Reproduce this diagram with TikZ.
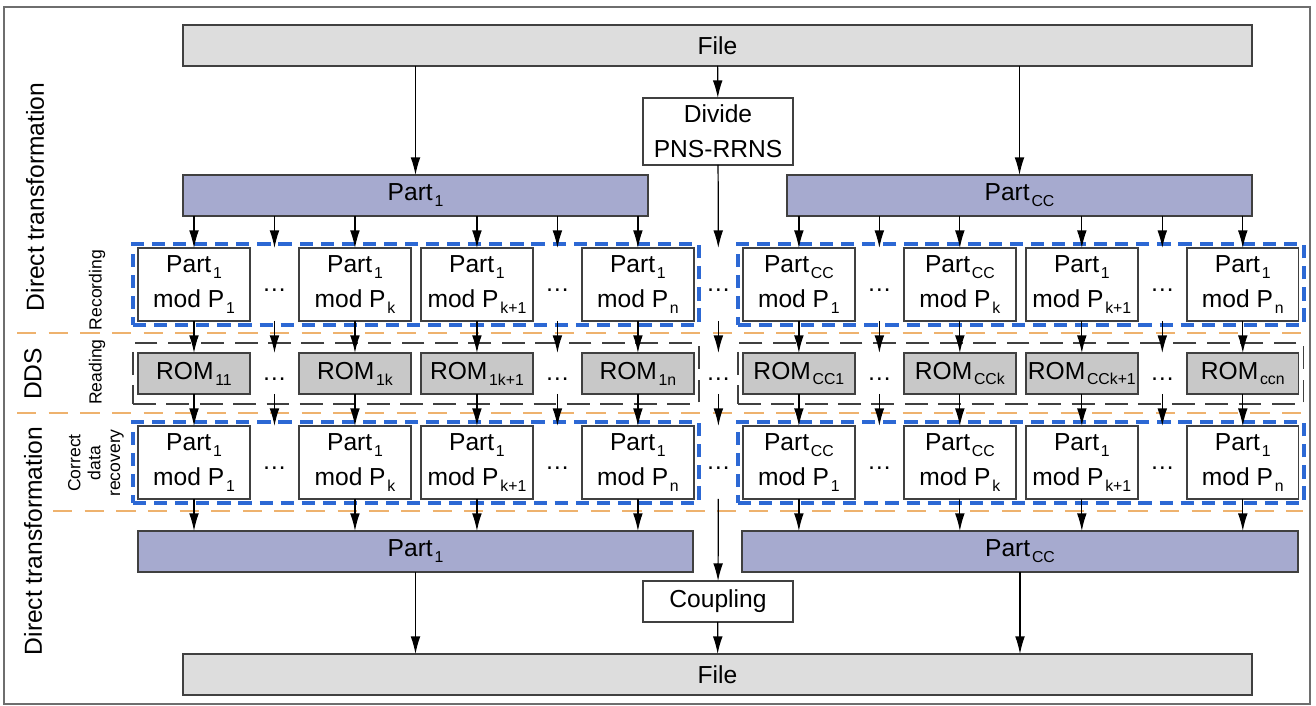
\documentclass[tikz,border=0pt]{standalone}
\usepackage{fontspec}
\setmainfont{Liberation Sans}
\usepackage{tikz}
\usetikzlibrary{arrows.meta,positioning,calc,fit}

\definecolor{filegray}{RGB}{221,221,221}
\definecolor{partblue}{RGB}{166,170,207}
\definecolor{romgray}{RGB}{200,200,200}
\definecolor{edgegray}{RGB}{64,64,64}
\definecolor{groupblue}{RGB}{44,104,212}
\definecolor{seporange}{RGB}{238,178,110}
\definecolor{framegray}{RGB}{110,110,110}

\newcommand{\idx}[1]{\kern1pt\raisebox{-3.4pt}{\fontsize{9}{11}\selectfont #1}}

\begin{document}
\begin{tikzpicture}[x=0.02cm, y=-0.02cm, node distance=0.98cm,
  font=\fontsize{14}{19.8}\selectfont,
  arrow/.style={-{Latex[length=10pt,width=5.5pt]}, line width=0.7pt},
  bar/.style={draw=edgegray, line width=0.8pt, minimum height=0.82cm, inner sep=1pt, outer sep=0pt},
  modbox/.style={draw=edgegray, line width=0.8pt, fill=white, minimum width=2.24cm, minimum height=1.46cm, align=center, inner sep=1pt, outer sep=0pt},
  rombox/.style={draw=edgegray, line width=0.8pt, fill=romgray, minimum width=2.24cm, minimum height=0.82cm, inner sep=1pt, outer sep=0pt},
  dotnode/.style={minimum width=0.9cm, inner sep=0pt, outer sep=0pt},
  bluegroup/.style={draw=groupblue, line width=2.5pt, dash pattern=on 7.5pt off 4.5pt, inner xsep=0.1cm, inner ysep=0.08cm},
  readgroup/.style={draw=edgegray, line width=0.8pt, dash pattern=on 13pt off 6pt, inner xsep=0.1cm, inner ysep=0.2cm},
  orangeline/.style={draw=seporange, line width=1pt, dash pattern=on 11pt off 7pt},
  sidelabel/.style={rotate=90, inner sep=0pt},
  smalllabel/.style={rotate=90, inner sep=0pt, align=center, font=\fontsize{10}{11.3}\selectfont}]
\useasboundingbox (0,0) rectangle (1316,706);
\draw[framegray, line width=0.8pt] (4,7) rectangle (1310,704);

% left labels
\node[sidelabel] (T1) at (35,197) {Direct transformation};
\node[sidelabel] (T2) at (33,374) {DDS};
\node[sidelabel] (T3) at (33,541) {Direct transformation};
\node[smalllabel] (L1) at (97,290) {Recording};
\node[smalllabel] (L2) at (97,372) {Reading};
\node[smalllabel] (L3) at (96,463) {Correct\\data\\recovery};

% top part
\node[bar, fill=filegray, minimum width=21.38cm] (F1) at (717.5,45.5) {File};
\node[draw=edgegray, line width=0.8pt, fill=white, minimum width=3cm, minimum height=1.34cm, align=center, inner sep=1pt, outer sep=0pt] (D) at (718,131.5) {Divide\\PNS-RRNS};
\node[bar, fill=partblue, minimum width=9.3cm] (P1) at (415.5,195.5) {Part\idx{1}};
\node[bar, fill=partblue, minimum width=9.3cm] (PC) at (1019.5,195.5) {Part\idx{CC}};

% recording row
\node[modbox] (R1) at (194,284.5) {Part\idx{1}\\mod P\idx{1}};
\node[modbox, right=of R1] (R2) {Part\idx{1}\\mod P\idx{k}};
\node[modbox, right=0.2cm of R2] (R3) {Part\idx{1}\\mod P\idx{k+1}};
\node[modbox, right=of R3] (R4) {Part\idx{1}\\mod P\idx{n}};
\node[modbox, right=of R4] (R5) {Part\idx{CC}\\mod P\idx{1}};
\node[modbox, right=of R5] (R6) {Part\idx{CC}\\mod P\idx{k}};
\node[modbox, right=0.2cm of R6] (R7) {Part\idx{1}\\mod P\idx{k+1}};
\node[modbox, right=of R7] (R8) {Part\idx{1}\\mod P\idx{n}};
\node[dotnode, minimum height=1.46cm] (Ra) at ($(R1.east)!0.5!(R2.west)$) {\strut\dots};
\node[dotnode, minimum height=1.46cm] (Rb) at ($(R3.east)!0.5!(R4.west)$) {\strut\dots};
\node[dotnode, minimum height=1.46cm] (Rc) at ($(R4.east)!0.5!(R5.west)$) {\strut\dots};
\node[dotnode, minimum height=1.46cm] (Rd) at ($(R5.east)!0.5!(R6.west)$) {\strut\dots};
\node[dotnode, minimum height=1.46cm] (Re) at ($(R7.east)!0.5!(R8.west)$) {\strut\dots};

% reading row
\node[rombox, below=0.64cm of R1] (M1) {ROM\idx{11}};
\node[rombox, below=0.64cm of R2] (M2) {ROM\idx{1k}};
\node[rombox, below=0.64cm of R3] (M3) {ROM\idx{1k+1}};
\node[rombox, below=0.64cm of R4] (M4) {ROM\idx{1n}};
\node[rombox, below=0.64cm of R5] (M5) {ROM\idx{CC1}};
\node[rombox, below=0.64cm of R6] (M6) {ROM\idx{CCk}};
\node[rombox, below=0.64cm of R7] (M7) {ROM\idx{CCk+1}};
\node[rombox, below=0.64cm of R8] (M8) {ROM\idx{ccn}};
\node[dotnode, minimum height=0.82cm, below=0.64cm of Ra] (Ma) {\strut\dots};
\node[dotnode, minimum height=0.82cm, below=0.64cm of Rb] (Mb) {\strut\dots};
\node[dotnode, minimum height=0.82cm, below=0.64cm of Rc] (Mc) {\strut\dots};
\node[dotnode, minimum height=0.82cm, below=0.64cm of Rd] (Md) {\strut\dots};
\node[dotnode, minimum height=0.82cm, below=0.64cm of Re] (Me) {\strut\dots};

% correct data recovery row
\node[modbox, below=0.64cm of M1] (C1) {Part\idx{1}\\mod P\idx{1}};
\node[modbox, below=0.64cm of M2] (C2) {Part\idx{1}\\mod P\idx{k}};
\node[modbox, below=0.64cm of M3] (C3) {Part\idx{1}\\mod P\idx{k+1}};
\node[modbox, below=0.64cm of M4] (C4) {Part\idx{1}\\mod P\idx{n}};
\node[modbox, below=0.64cm of M5] (C5) {Part\idx{CC}\\mod P\idx{1}};
\node[modbox, below=0.64cm of M6] (C6) {Part\idx{CC}\\mod P\idx{k}};
\node[modbox, below=0.64cm of M7] (C7) {Part\idx{1}\\mod P\idx{k+1}};
\node[modbox, below=0.64cm of M8] (C8) {Part\idx{1}\\mod P\idx{n}};
\node[dotnode, minimum height=1.46cm, below=0.64cm of Ma] (Ca) {\strut\dots};
\node[dotnode, minimum height=1.46cm, below=0.64cm of Mb] (Cb) {\strut\dots};
\node[dotnode, minimum height=1.46cm, below=0.64cm of Mc] (Cc) {\strut\dots};
\node[dotnode, minimum height=1.46cm, below=0.64cm of Md] (Cd) {\strut\dots};
\node[dotnode, minimum height=1.46cm, below=0.64cm of Me] (Ce) {\strut\dots};

% bottom part
\node[bar, fill=partblue, minimum width=11.1cm] (Q1) at (415.5,551.5) {Part\idx{1}};
\node[bar, fill=partblue, minimum width=11.12cm] (QC) at (1020,551.5) {Part\idx{CC}};
\node[bar, fill=white, minimum width=3cm] (K) at (718,601.5) {Coupling};
\node[bar, fill=filegray, minimum width=21.38cm] (F2) at (717.5,674.5) {File};

% groups
\node[bluegroup, fit=(R1)(R4)] (G1) {};
\node[bluegroup, fit=(R5)(R8)] (G2) {};
\node[readgroup, fit=(M1)(M4)] (G3) {};
\node[readgroup, fit=(M5)(M8)] (G4) {};
\node[bluegroup, fit=(C1)(C4)] (G5) {};
\node[bluegroup, fit=(C5)(C8)] (G6) {};
\draw[orangeline] (17,333) -- (1303,333);
\draw[orangeline] (17,413) -- (1303,413);
\draw[orangeline] (53,511) -- (1303,511);

% arrows
\draw[arrow] (F1.south -| P1) -- (P1);
\draw[arrow] (F1.south -| PC) -- (PC);
\draw[arrow] (F1) -- (D);
\draw[arrow] (D) -- (Rc);
\draw[arrow] (P1.south -| R1) -- (R1);
\draw[arrow] (P1.south -| Ra) -- (Ra);
\draw[arrow] (P1.south -| R2) -- (R2);
\draw[arrow] (P1.south -| R3) -- (R3);
\draw[arrow] (P1.south -| Rb) -- (Rb);
\draw[arrow] (P1.south -| R4) -- (R4);
\draw[arrow] (PC.south -| R5) -- (R5);
\draw[arrow] (PC.south -| Rd) -- (Rd);
\draw[arrow] (PC.south -| R6) -- (R6);
\draw[arrow] (PC.south -| R7) -- (R7);
\draw[arrow] (PC.south -| Re) -- (Re);
\draw[arrow] (PC.south -| R8) -- (R8);
\draw[arrow] (R1) -- (M1);
\draw[arrow] (Ra) -- (Ma);
\draw[arrow] (R2) -- (M2);
\draw[arrow] (R3) -- (M3);
\draw[arrow] (Rb) -- (Mb);
\draw[arrow] (R4) -- (M4);
\draw[arrow] (Rc) -- (Mc);
\draw[arrow] (R5) -- (M5);
\draw[arrow] (Rd) -- (Md);
\draw[arrow] (R6) -- (M6);
\draw[arrow] (R7) -- (M7);
\draw[arrow] (Re) -- (Me);
\draw[arrow] (R8) -- (M8);
\draw[arrow] (M1) -- (C1);
\draw[arrow] (Ma) -- (Ca);
\draw[arrow] (M2) -- (C2);
\draw[arrow] (M3) -- (C3);
\draw[arrow] (Mb) -- (Cb);
\draw[arrow] (M4) -- (C4);
\draw[arrow] (Mc) -- (Cc);
\draw[arrow] (M5) -- (C5);
\draw[arrow] (Md) -- (Cd);
\draw[arrow] (M6) -- (C6);
\draw[arrow] (M7) -- (C7);
\draw[arrow] (Me) -- (Ce);
\draw[arrow] (M8) -- (C8);
\draw[arrow] (C1) -- (C1 |- Q1.north);
\draw[arrow] (C2) -- (C2 |- Q1.north);
\draw[arrow] (C3) -- (C3 |- Q1.north);
\draw[arrow] (C4) -- (C4 |- Q1.north);
\draw[arrow] (C5) -- (C5 |- QC.north);
\draw[arrow] (C6) -- (C6 |- QC.north);
\draw[arrow] (C7) -- (C7 |- QC.north);
\draw[arrow] (C8) -- (C8 |- QC.north);
\draw[arrow] (Cc) -- (K);
\draw[arrow] (Q1) -- (Q1 |- F2.north);
\draw[arrow] (QC) -- (QC |- F2.north);
\draw[arrow] (K) -- (F2);
\end{tikzpicture}
\end{document}
